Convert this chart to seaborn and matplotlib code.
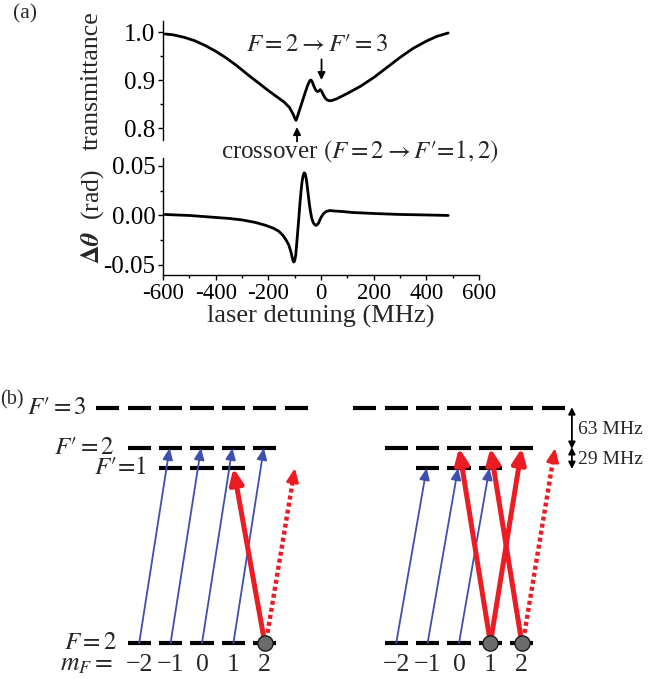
import matplotlib
matplotlib.use("Agg")
import matplotlib.pyplot as plt
from matplotlib.ticker import MultipleLocator, FixedLocator

import numpy as np
import pandas as pd
import seaborn as sns


# (a) transmittance vs laser detuning
trans_mhz = [-592, -560, -520, -480, -440, -400, -360, -320, -280, -240, -200, -170,
             -140, -120, -105, -100, -95, -90, -80, -70, -60, -50, -42, -38, -33,
             -27, -20, -14, -8, -3, 2, 8, 15, 22, 30, 40, 60, 100, 150, 200, 250,
             300, 350, 400, 440, 483]
trans_val = [0.996, 0.994, 0.989, 0.982, 0.972, 0.960, 0.946, 0.930, 0.912, 0.895,
             0.878, 0.866, 0.854, 0.843, 0.828, 0.821, 0.816, 0.823, 0.840, 0.857,
             0.874, 0.890, 0.899, 0.900, 0.896, 0.887, 0.879, 0.876, 0.877, 0.880,
             0.877, 0.870, 0.863, 0.859, 0.857, 0.857, 0.861, 0.872, 0.887, 0.905,
             0.926, 0.947, 0.966, 0.981, 0.991, 0.998]

# (a) rotation angle vs laser detuning
rot_mhz = [-592, -550, -500, -450, -400, -350, -300, -250, -210, -180, -160, -145,
           -132, -122, -114, -108, -104, -100, -96, -92, -88, -84, -80, -76, -72,
           -68, -64, -60, -56, -52, -48, -44, -40, -35, -30, -25, -20, -15, -10,
           -5, 0, 10, 20, 34, 50, 80, 120, 200, 300, 400, 483]
rot_val = [0.001, 0.0005, 0.000, -0.001, -0.002, -0.003, -0.0045, -0.007, -0.010,
           -0.013, -0.016, -0.020, -0.025, -0.030, -0.037, -0.044, -0.047, -0.046,
           -0.040, -0.028, -0.015, -0.002, 0.012, 0.024, 0.034, 0.040, 0.043, 0.042,
           0.037, 0.029, 0.020, 0.011, 0.004, -0.003, -0.007, -0.009, -0.010,
           -0.0095, -0.008, -0.005, -0.002, 0.002, 0.004, 0.005, 0.0045, 0.004,
           0.003, 0.002, 0.001, 0.0005, 0.000]

x_ticks = [-600, -400, -200, 0, 200, 400, 600]
x_ticklabels = ["-600", "-400", "-200", "0", "200", "400", "600"]
trans_ticks = [0.8, 0.9, 1.0]
trans_ticklabels = ["0.8", "0.9", "1.0"]
rot_ticks = [-0.05, 0.0, 0.05]
rot_ticklabels = ["-0.05", "0.00", "0.05"]

# (b) level scheme
level_height = [0.0, 5.57, 6.21, 7.48]          # F=2, F'=1, F'=2, F'=3
level_mmax = [2, 1, 2, 3]
level_labels = ["$F=2$", "$F\u2032\\!=\\!1$", "$F\u2032=2$", "$F\u2032=3$"]
level_label_x = [-2.7, -1.75, -2.77, -3.66]
m_values = [-2, -1, 0, 1, 2]
m_labels = ["\u22122", "\u22121", "0", "1", "2"]
scheme_offset = [0.0, 8.185]

# (scheme, m lower, m upper, upper level index)
blue_transitions = [(0, -2, -1, 2), (0, -1, 0, 2), (0, 0, 1, 2), (0, 1, 2, 2),
                    (1, -2, -1, 1), (1, -1, 0, 1), (1, 0, 1, 1)]
red_transitions = [(0, 2, 1, 1), (1, 1, 0, 2), (1, 1, 2, 2), (1, 2, 1, 2)]
dotted_transitions = [(0, 2, 2.96, 1), (1, 2, 3.06, 2)]
populated = [(0, 2), (1, 1), (1, 2)]
splittings = [("63 MHz", 3, 2), ("29 MHz", 2, 1)]

sns.set_theme(style="ticks")
plt.rcParams.update({
    "font.family": ["Liberation Serif", "DejaVu Serif"],
    "mathtext.fontset": "stix",
    "axes.unicode_minus": False,
    "axes.linewidth": 1.0,
    "xtick.major.size": 3.5, "ytick.major.size": 3.5,
    "xtick.minor.size": 2.2, "ytick.minor.size": 2.2,
    "xtick.major.width": 1.0, "ytick.major.width": 1.0,
    "xtick.minor.width": 1.0, "ytick.minor.width": 1.0,
    "xtick.color": "black", "ytick.color": "black",
    "axes.edgecolor": "black",
})

fig = plt.figure(figsize=(6.59, 6.79), dpi=100)
W, H = 659, 679

ax_t = fig.add_axes([163 / W, 1 - 140 / H, 316 / W, 119 / H])
ax_r = fig.add_axes([163 / W, 1 - 275 / H, 316 / W, 117 / H])
ax_t.patch.set_visible(False)
ax_r.patch.set_visible(False)

df_t = pd.DataFrame({"detuning": trans_mhz, "transmittance": trans_val})
df_r = pd.DataFrame({"detuning": rot_mhz, "rotation": rot_val})

sns.lineplot(data=df_t, x="detuning", y="transmittance", sort=False,
             color="black", lw=2.0, ax=ax_t)
sns.lineplot(data=df_r, x="detuning", y="rotation", sort=False,
             color="black", lw=2.0, ax=ax_r)

for ax in (ax_t, ax_r):
    ax.set_xlim(-600, 600)
    sns.despine(ax=ax)
    ax.tick_params(labelsize=18, pad=2)

ax_t.set_ylim(0.775, 1.023)
ax_t.spines["bottom"].set_visible(False)
ax_t.set_xticks([])
ax_t.set_xlabel("")
ax_t.yaxis.set_major_locator(FixedLocator(trans_ticks))
ax_t.set_yticklabels(trans_ticklabels)
ax_t.yaxis.set_minor_locator(MultipleLocator(0.05))
ax_t.set_ylabel("transmittance", fontsize=18.5)
ax_t.yaxis.set_label_coords(-0.19, 0.5)

ax_r.set_ylim(-0.0601, 0.058)
ax_r.yaxis.set_major_locator(FixedLocator(rot_ticks))
ax_r.set_yticklabels(rot_ticklabels)
ax_r.yaxis.set_minor_locator(MultipleLocator(0.025))
ax_r.xaxis.set_major_locator(FixedLocator(x_ticks))
ax_r.set_xticklabels(x_ticklabels)
ax_r.xaxis.set_minor_locator(MultipleLocator(100))
ax_r.tick_params(axis="x", labelsize=16.5)
ax_r.set_xlabel("laser detuning (MHz)", fontsize=19, labelpad=1)
ax_r.set_ylabel(r"$\mathbf{\Delta}\mathbfit{\theta}$  (rad)", fontsize=18.5)
ax_r.yaxis.set_label_coords(-0.18, 0.5)

# annotations on transmittance curve
ax_t.text(-15, 0.974, "$F=2\\rightarrow F\u2032=3$", fontsize=18, ha="center", va="center")
ax_t.annotate("", xy=(2, 0.900), xytext=(2, 0.943),
              arrowprops=dict(arrowstyle="-|>", color="black", lw=1.3,
                              mutation_scale=11, shrinkA=0, shrinkB=0))
ax_t.text(148, 0.750, "crossover $(F=2\\rightarrow F\u2032\\!=\\!1,2)$", fontsize=18,
          ha="center", va="center")
ax_t.annotate("", xy=(-91, 0.802), xytext=(-91, 0.772),
              arrowprops=dict(arrowstyle="-|>", color="black", lw=1.3,
                              mutation_scale=11, shrinkA=0, shrinkB=0),
              annotation_clip=False)

fig.text(25 / W, 1 - 14 / H, "(a)", fontsize=15.5, ha="center", va="center")
fig.text(0, 1 - 400 / H, "(b)", fontsize=14.5, ha="left", va="center")

# (b) level scheme
ax_d = fig.add_axes([0, 0, 1, 299 / H])
ax_d.set_xlim(-202 / 31.4, 457 / 31.4)
ax_d.set_ylim(-36 / 31.4, 263 / 31.4)
ax_d.axis("off")

for off in scheme_offset:
    for y, mmax in zip(level_height, level_mmax):
        for m in range(-mmax, mmax + 1):
            ax_d.hlines(y, off + m - 0.37, off + m + 0.37, color="black", lw=3.0)

for y, lab, lx in zip(level_height, level_labels, level_label_x):
    ax_d.text(lx, y, lab, fontsize=18, ha="right", va="center")
ax_d.text(-2.83, -0.70, r"$m_F=$", fontsize=18.5, ha="right", va="center")
for off in scheme_offset:
    for m, lab in zip(m_values, m_labels):
        ax_d.text(off + m, -0.70, lab, fontsize=18.5, ha="center", va="center")

blue = "#3f4fae"
red = "#ec1c24"
for s, m0, m1, lev in blue_transitions:
    off = scheme_offset[s]
    ax_d.annotate("", xy=(off + m1 - 0.03, level_height[lev]), xytext=(off + m0, 0),
                  arrowprops=dict(arrowstyle="-|>,head_length=0.5,head_width=0.22",
                                  color=blue, lw=1.3, mutation_scale=14,
                                  shrinkA=0, shrinkB=0))
for s, m0, m1, lev in red_transitions:
    off = scheme_offset[s]
    ax_d.annotate("", xy=(off + m1, level_height[lev]), xytext=(off + m0, 0),
                  arrowprops=dict(arrowstyle="-|>,head_length=0.45,head_width=0.2",
                                  color=red, lw=3.6, mutation_scale=20,
                                  shrinkA=0, shrinkB=0), zorder=4)
for s, m0, m1, lev in dotted_transitions:
    off = scheme_offset[s]
    start = np.array([off + m0 + 0.05, 0.1])
    tip = np.array([off + m1, level_height[lev]])
    u = (tip - start) / np.hypot(*(tip - start))
    neck = tip - 0.3 * u
    ax_d.plot([start[0], neck[0]], [start[1], neck[1]], color=red, lw=3.2,
              ls=(0, (0.9, 0.7)), dash_capstyle="butt", zorder=4)
    ax_d.annotate("", xy=tuple(tip), xytext=tuple(neck),
                  arrowprops=dict(arrowstyle="-|>,head_length=0.45,head_width=0.2",
                                  color=red, lw=2.0, mutation_scale=18,
                                  shrinkA=0, shrinkB=0), zorder=4)

dots = pd.DataFrame({"m": [scheme_offset[s] + m for s, m in populated],
                     "y": [0.0] * len(populated)})
sns.scatterplot(data=dots, x="m", y="y", s=120, color="#6b6b6b",
                edgecolor="#1a1a1a", linewidth=1.0, zorder=6, ax=ax_d, legend=False)
ax_d.set_xlabel("")
ax_d.set_ylabel("")

# hyperfine splittings
x_br = 11.78
for lab, hi, lo in splittings:
    ax_d.annotate("", xy=(x_br, level_height[hi] + 0.03), xytext=(x_br, level_height[lo] - 0.03),
                  arrowprops=dict(arrowstyle="<|-|>", color="black", lw=1.3,
                                  mutation_scale=10, shrinkA=0, shrinkB=0))
    ax_d.text(x_br + 0.2, (level_height[hi] + level_height[lo]) / 2 - 0.05, lab,
              fontsize=14, ha="left", va="center")

fig.savefig("out.png", dpi=100)
